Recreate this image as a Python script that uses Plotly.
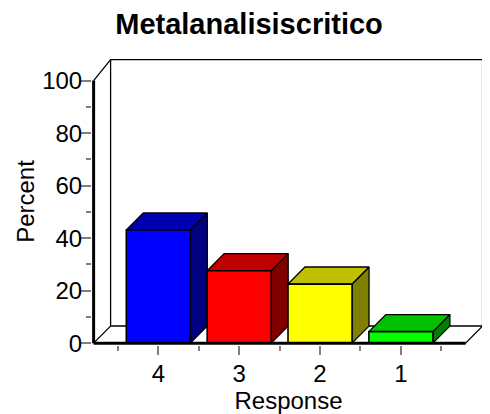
import plotly.graph_objects as go

# ---- data ----
categories = ["4", "3", "2", "1"]
percent = [43.1, 27.6, 22.5, 4.4]
front_colors = ["#0000FF", "#FF0000", "#FFFF00", "#00FF00"]
top_colors = ["#0000B0", "#C00000", "#C0C000", "#00C000"]
side_colors = ["#000080", "#800000", "#808000", "#008000"]
y_ticks = [0, 20, 40, 60, 80, 100]
y_minor = [10, 30, 50, 70, 90]

# ---- 3D styling (category units / percent units) ----
DX = 0.21      # depth offset along x
DY = 6.5       # depth offset along y
HALF = 0.396   # half bar width
XL, XR = -0.8, 3.8   # front floor extent
WALL_TOP = 108.0
YMAX = 100

fig = go.Figure()

def poly(xs, ys, fill, lw=1.3, color="black"):
    fig.add_trace(go.Scatter(
        x=list(xs) + [xs[0]], y=list(ys) + [ys[0]],
        mode="lines", fill="toself" if fill else None,
        fillcolor=fill, line=dict(color=color, width=lw),
        hoverinfo="skip", showlegend=False))

def line(xs, ys, lw):
    fig.add_trace(go.Scatter(x=xs, y=ys, mode="lines",
                             line=dict(color="black", width=lw),
                             hoverinfo="skip", showlegend=False))

# back wall
poly([XL + DX, XR + DX, XR + DX, XL + DX], [DY, DY, WALL_TOP, WALL_TOP], "white")
# left wall edge
line([XL, XL + DX], [YMAX, WALL_TOP], 1.3)
# floor
poly([XL, XR, XR + DX, XL + DX], [0, 0, DY, DY], "white")

# bars
for i, v in enumerate(percent):
    l, r = i - HALF, i + HALF
    poly([r, r + DX, r + DX, r], [0, DY, v + DY, v], side_colors[i])      # side
    poly([l, r, r + DX, l + DX], [v, v, v + DY, v + DY], top_colors[i])   # top
    poly([l, r, r, l], [0, 0, v, v], front_colors[i], lw=1.6)             # front

# front thick axis lines
line([XL, XL], [0, YMAX], 3)
line([XL, XR], [0, 0], 3)

# page has an 8px body margin, so the figure is sized to fit the window
fig.update_layout(
    width=482, height=406,
    margin=dict(l=83.7, r=5.3, t=50.1, b=68.9, autoexpand=False),
    paper_bgcolor="white", plot_bgcolor="white",
    font=dict(family="Liberation Sans, Arial, sans-serif", size=24, color="black"),
    title=dict(text="<b>Metalanalisiscritico</b>", x=0.5, xanchor="center",
               y=0.962, yanchor="middle", yref="container",
               font=dict(size=29, color="black")),
    showlegend=False,
)
fig.update_xaxes(
    range=[-0.82, 4.04], showgrid=False, zeroline=False, showline=False,
    automargin=False,
    tickmode="array", tickvals=list(range(len(categories))), ticktext=categories,
    ticks="outside", ticklen=9, tickwidth=2, tickcolor="#808080",
    ticklabelstandoff=-2,
    minor=dict(tickmode="array", tickvals=[i - 0.5 for i in range(len(categories) + 1)],
               ticks="outside", ticklen=5, tickwidth=2, tickcolor="#808080"),
    title=dict(text="Response", standoff=2, font=dict(size=24)),
    tickfont=dict(size=24),
)
fig.update_yaxes(
    range=[-0.7, 108.6], showgrid=False, zeroline=False, showline=False,
    automargin=False,
    tickmode="array", tickvals=y_ticks,
    ticks="outside", ticklen=10, tickwidth=2, tickcolor="#808080",
    ticklabelstandoff=-6,
    minor=dict(tickmode="array", tickvals=y_minor,
               ticks="outside", ticklen=5, tickwidth=2, tickcolor="#808080"),
    title=dict(text="Percent", standoff=0, font=dict(size=24)),
    tickfont=dict(size=24),
)

fig.write_html("out.html")
